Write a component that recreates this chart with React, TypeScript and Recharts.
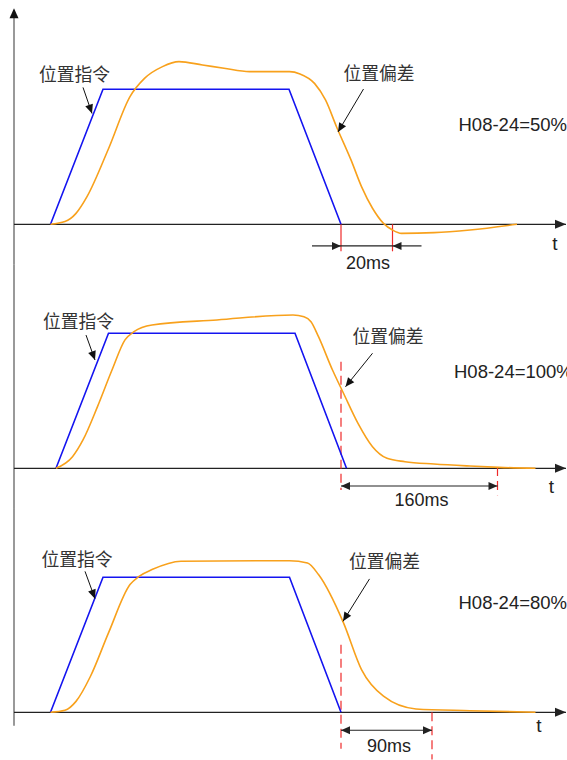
import { ComposedChart, Line, XAxis, YAxis, ReferenceLine, ReferenceDot } from 'recharts';

// time axis is in arbitrary units (0..110.6), value axis: 0 = rest, 1 = command plateau

const CMD_A = [
  { t: 7.3, v: 0 },
  { t: 17.8, v: 1 },
  { t: 55.0, v: 1 },
  { t: 65.4, v: 0 },
];
const ERR_A = [
  { t: 7.3, v: 0 },
  { t: 10.2, v: 0.02 },
  { t: 12.4, v: 0.081 },
  { t: 14.6, v: 0.205 },
  { t: 18.9, v: 0.56 },
  { t: 23.2, v: 0.946 },
  { t: 26.1, v: 1.081 },
  { t: 29.7, v: 1.168 },
  { t: 33.0, v: 1.205 },
  { t: 37.7, v: 1.18 },
  { t: 42.0, v: 1.156 },
  { t: 47.1, v: 1.131 },
  { t: 55.1, v: 1.131 },
  { t: 57.2, v: 1.114 },
  { t: 60.1, v: 1.044 },
  { t: 62.3, v: 0.921 },
  { t: 64.5, v: 0.723 },
  { t: 67.4, v: 0.477 },
  { t: 69.5, v: 0.279 },
  { t: 71.7, v: 0.119 },
  { t: 73.9, v: 0.007 },
  { t: 75.7, v: -0.042 },
  { t: 77.5, v: -0.067 },
  { t: 84.0, v: -0.062 },
  { t: 91.2, v: -0.042 },
  { t: 100.6, v: 0 },
];

const CMD_B = [
  { t: 8.4, v: 0 },
  { t: 18.9, v: 1 },
  { t: 56.2, v: 1 },
  { t: 66.5, v: 0 },
];
const ERR_B = [
  { t: 8.4, v: 0 },
  { t: 11.7, v: 0.086 },
  { t: 13.8, v: 0.21 },
  { t: 16.7, v: 0.457 },
  { t: 19.6, v: 0.728 },
  { t: 22.2, v: 0.951 },
  { t: 24.0, v: 1.012 },
  { t: 27.6, v: 1.062 },
  { t: 40.6, v: 1.099 },
  { t: 55.8, v: 1.136 },
  { t: 58.0, v: 1.123 },
  { t: 59.4, v: 1.086 },
  { t: 60.9, v: 0.975 },
  { t: 63.7, v: 0.728 },
  { t: 65.9, v: 0.556 },
  { t: 68.8, v: 0.333 },
  { t: 71.7, v: 0.16 },
  { t: 74.6, v: 0.074 },
  { t: 78.2, v: 0.049 },
  { t: 84.0, v: 0.032 },
  { t: 91.2, v: 0.017 },
  { t: 97.0, v: 0.007 },
  { t: 104.3, v: 0 },
];

const CMD_C = [
  { t: 7.3, v: 0 },
  { t: 17.8, v: 1 },
  { t: 55.1, v: 1 },
  { t: 65.4, v: 0 },
];
const ERR_C = [
  { t: 7.3, v: 0 },
  { t: 10.2, v: 0.015 },
  { t: 12.4, v: 0.081 },
  { t: 15.3, v: 0.267 },
  { t: 18.9, v: 0.588 },
  { t: 23.2, v: 0.946 },
  { t: 25.0, v: 1.007 },
  { t: 27.6, v: 1.057 },
  { t: 33.4, v: 1.119 },
  { t: 55.1, v: 1.123 },
  { t: 58.7, v: 1.106 },
  { t: 60.9, v: 1.02 },
  { t: 65.9, v: 0.662 },
  { t: 69.5, v: 0.316 },
  { t: 73.9, v: 0.119 },
  { t: 80.4, v: 0.025 },
  { t: 91.2, v: 0.012 },
  { t: 104.3, v: 0 },
];

const GAIN_LABELS = ['H08-24=50%', 'H08-24=100%', 'H08-24=80%'];
const SETTLE_LABELS = ['20ms', '160ms', '90ms'];
const CMD_TEXT = '位置指令';
const ERR_TEXT = '位置偏差';

const BLUE = '#1414f0';
const ORANGE = '#f8a11c';
const RED = '#ee2a2a';
const INK = '#111';
const CJK = '"Noto Sans CJK SC", "Noto Sans", sans-serif';
const LATIN = '"Liberation Sans", Arial, sans-serif';

type Pt = { x: number; y: number };

function head(tip: Pt, from: Pt, len: number, half: number, color: string) {
  const dx = tip.x - from.x;
  const dy = tip.y - from.y;
  const d = Math.hypot(dx, dy) || 1;
  const ux = dx / d;
  const uy = dy / d;
  const bx = tip.x - ux * len;
  const by = tip.y - uy * len;
  const pts = [
    `${tip.x},${tip.y}`,
    `${bx - uy * half},${by + ux * half}`,
    `${bx + uy * half},${by - ux * half}`,
  ].join(' ');
  return <polygon points={pts} fill={color} stroke="none" />;
}

function arrow(opts: {
  color?: string;
  width?: number;
  start?: boolean;
  end?: boolean;
  len?: number;
  half?: number;
}) {
  const { color = INK, width = 1, start = false, end = true, len = 9, half = 4 } = opts;
  return (p: any) => {
    const a = { x: p.x1, y: p.y1 };
    const b = { x: p.x2, y: p.y2 };
    return (
      <g>
        <line x1={a.x} y1={a.y} x2={b.x} y2={b.y} stroke={color} strokeWidth={width} />
        {end && head(b, a, len, half, color)}
        {start && head(a, b, len, half, color)}
      </g>
    );
  };
}

function label(text: string, font: string, size: number, anchor: 'start' | 'middle', color: string) {
  return (p: any) => (
    <text
      x={p.cx}
      y={p.cy}
      fontFamily={font}
      fontSize={size}
      fill={color}
      textAnchor={anchor}
      dominantBaseline="central"
    >
      {text}
    </text>
  );
}

type Seg = [number, number, number, number];

interface PanelProps {
  top: number;
  cmd: { t: number; v: number }[];
  err: { t: number; v: number }[];
  axisFrom: number;
  axisTo: number;
  axisHead: boolean;
  cmdText: [number, number];
  cmdArrow: Seg;
  errText: [number, number];
  errArrow: Seg;
  gain: string;
  gainPos: [number, number];
  tPos: [number, number];
  markers: { seg: Seg; dash?: string }[];
  dims: { seg: Seg; start: boolean; end: boolean }[];
  settle: string;
  settlePos: [number, number];
}

function Panel(p: PanelProps) {
  const seg = (s: Seg) => [
    { x: s[0], y: s[1] },
    { x: s[2], y: s[3] },
  ];
  return (
    <div style={{ position: 'absolute', left: 0, top: p.top }}>
      <ComposedChart
        width={567}
        height={272}
        margin={{ top: 8.3, right: 0, bottom: 7.2, left: 14 }}
        style={{ overflow: 'visible' }}
      >
        <XAxis type="number" dataKey="t" domain={[0, 110.6]} hide allowDataOverflow />
        <YAxis type="number" dataKey="v" domain={[-0.3, 1.6]} hide allowDataOverflow />

        {/* vertical axis */}
        <ReferenceLine
          segment={seg([0, p.axisFrom, 0, p.axisTo]) as any}
          ifOverflow="visible"
          shape={(s: any) =>
            p.axisHead ? (
              <g>
                <line x1={s.x2} y1={s.y2} x2={s.x1} y2={s.y1 + 8} stroke="#777" strokeWidth={1.5} />
                {head({ x: s.x1, y: s.y1 }, { x: s.x2, y: s.y2 }, 10, 4.5, INK)}
              </g>
            ) : (
              <line x1={s.x1} y1={s.y1} x2={s.x2} y2={s.y2} stroke="#777" strokeWidth={1.5} />
            )
          }
        />
        {/* time axis */}
        <ReferenceLine
          segment={seg([0, 0, 110.4, 0]) as any}
          ifOverflow="visible"
          shape={arrow({ color: '#222', width: 1.3, len: 11, half: 4.5 })}
        />

        {p.markers.map((m, i) => (
          <ReferenceLine
            key={`m${i}`}
            segment={seg(m.seg) as any}
            ifOverflow="visible"
            stroke={RED}
            strokeWidth={1.2}
            strokeDasharray={m.dash}
          />
        ))}

        <Line
          data={p.cmd}
          dataKey="v"
          type="linear"
          stroke={BLUE}
          strokeWidth={1.6}
          dot={false}
          isAnimationActive={false}
        />
        <Line
          data={p.err}
          dataKey="v"
          type="monotone"
          stroke={ORANGE}
          strokeWidth={1.6}
          dot={false}
          isAnimationActive={false}
        />

        {p.dims.map((d, i) => (
          <ReferenceLine
            key={`d${i}`}
            segment={seg(d.seg) as any}
            ifOverflow="visible"
            shape={arrow({ color: '#222', width: 1.2, start: d.start, end: d.end, len: 9, half: 4 })}
          />
        ))}

        <ReferenceLine segment={seg(p.cmdArrow) as any} ifOverflow="visible" shape={arrow({ len: 9, half: 4 })} />
        <ReferenceLine segment={seg(p.errArrow) as any} ifOverflow="visible" shape={arrow({ len: 9, half: 4 })} />

        <ReferenceDot x={p.cmdText[0]} y={p.cmdText[1]} r={0} ifOverflow="visible"
          shape={label(CMD_TEXT, CJK, 17.8, 'start', '#333')} />
        <ReferenceDot x={p.errText[0]} y={p.errText[1]} r={0} ifOverflow="visible"
          shape={label(ERR_TEXT, CJK, 17.8, 'start', '#333')} />
        <ReferenceDot x={p.gainPos[0]} y={p.gainPos[1]} r={0} ifOverflow="visible"
          shape={label(p.gain, LATIN, 18.5, 'start', '#222')} />
        <ReferenceDot x={p.tPos[0]} y={p.tPos[1]} r={0} ifOverflow="visible"
          shape={label('t', LATIN, 19, 'middle', '#222')} />
        <ReferenceDot x={p.settlePos[0]} y={p.settlePos[1]} r={0} ifOverflow="visible"
          shape={label(p.settle, LATIN, 18, 'middle', '#222')} />
      </ComposedChart>
    </div>
  );
}

export default function App() {
  return (
    <div style={{ position: 'absolute', left: 0, top: 0, width: 567, height: 760, background: '#fff', overflow: 'hidden' }}>
      <Panel
        top={0}
        cmd={CMD_A}
        err={ERR_A}
        axisFrom={1.6}
        axisTo={-0.3}
        axisHead
        cmdText={[5, 1.123]}
        cmdArrow={[13.8, 1.014, 15.6, 0.821]}
        errText={[65.9, 1.13]}
        errArrow={[69.9, 1.002, 64.8, 0.684]}
        gain={GAIN_LABELS[0]}
        gainPos={[88.9, 0.736]}
        tPos={[108.2, -0.141]}
        markers={[
          { seg: [65.4, 0, 65.4, -0.2] },
          { seg: [75.7, 0, 75.7, -0.2] },
        ]}
        dims={[
          { seg: [59.6, -0.16, 65.4, -0.16], start: false, end: true },
          { seg: [65.4, -0.16, 75.7, -0.16], start: false, end: false },
          { seg: [81.5, -0.16, 75.7, -0.16], start: false, end: true },
        ]}
        settle={SETTLE_LABELS[0]}
        settlePos={[70.8, -0.287]}
      />
      <Panel
        top={244}
        cmd={CMD_B}
        err={ERR_B}
        axisFrom={1.507}
        axisTo={-0.3}
        axisHead={false}
        cmdText={[5.8, 1.099]}
        cmdArrow={[14.4, 0.987, 16.2, 0.802]}
        errText={[67.7, 0.987]}
        errArrow={[71.7, 0.852, 66.3, 0.604]}
        gain={GAIN_LABELS[1]}
        gainPos={[88.0, 0.716]}
        tPos={[107.5, -0.136]}
        markers={[
          { seg: [65.4, 0.79, 65.4, -0.16], dash: '9 5' },
          { seg: [96.7, 0.01, 96.7, -0.2], dash: '9 5' },
        ]}
        dims={[{ seg: [65.4, -0.131, 96.7, -0.131], start: true, end: true }]}
        settle={SETTLE_LABELS[1]}
        settlePos={[81.5, -0.235]}
      />
      <Panel
        top={488.4}
        cmd={CMD_C}
        err={ERR_C}
        axisFrom={1.509}
        axisTo={-0.1}
        axisHead={false}
        cmdText={[5.5, 1.144]}
        cmdArrow={[14.2, 1.044, 16.2, 0.842]}
        errText={[67.0, 1.131]}
        errArrow={[71.1, 0.988, 65.8, 0.674]}
        gain={GAIN_LABELS[2]}
        gainPos={[88.9, 0.81]}
        tPos={[105.0, -0.099]}
        markers={[
          { seg: [65.4, 0.5, 65.4, -0.27], dash: '9 5' },
          { seg: [83.6, 0, 83.6, -0.35], dash: '9 5' },
        ]}
        dims={[{ seg: [65.4, -0.133, 83.6, -0.133], start: true, end: true }]}
        settle={SETTLE_LABELS[2]}
        settlePos={[75.0, -0.252]}
      />
    </div>
  );
}
